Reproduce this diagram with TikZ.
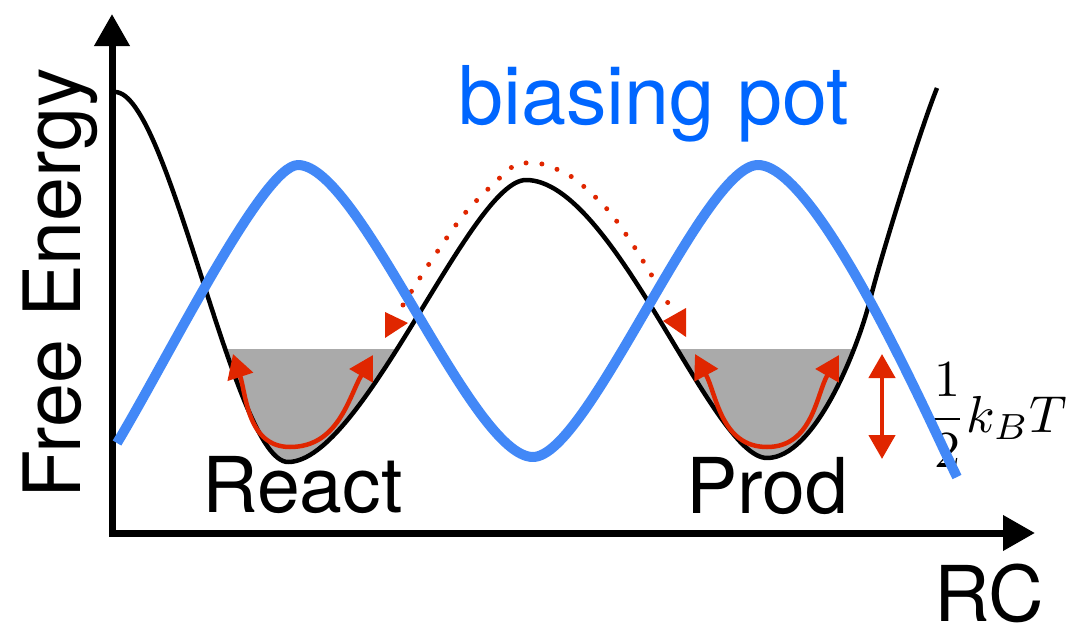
\documentclass[tikz,border=0pt]{standalone}
\usepackage{fontspec}
\setmainfont{TeX Gyre Heros}
\usepackage{graphicx}
\usetikzlibrary{arrows.meta}
\definecolor{bluetext}{RGB}{0,102,255}
\definecolor{bluecurve}{RGB}{66,136,247}
\definecolor{redc}{RGB}{224,38,0}
\definecolor{wellgray}{RGB}{170,170,170}
\begin{document}
\begin{tikzpicture}[x=1pt,y=-1pt,
  axisline/.style={line width=7pt, line join=miter,
    {Triangle[length=32pt,width=34pt]}-{Triangle[length=32pt,width=34pt]}},
  fecurve/.style={black, line width=4.5pt, line join=round},
  biascurve/.style={bluecurve, line width=10pt, line join=round},
  osc/.style={redc, line width=4.5pt,
    {Triangle[length=24pt,width=26pt]}-{Triangle[length=24pt,width=26pt]}},
  hop/.style={redc, line width=5pt, line cap=round, dash pattern=on 0pt off 16pt},
  hoptip/.style={fill=redc},
  lbl/.style={font=\fontsize{77}{80}\selectfont, inner sep=0pt, anchor=base west}]
\useasboundingbox (0,0) rectangle (1082,629);

% key points of the free-energy profile
\coordinate (F0) at (115,92);
\coordinate (Fr) at (288,462);
\coordinate (Fb) at (526,180);
\coordinate (Fp) at (767,458);
\coordinate (Fi) at (870,300);
\coordinate (F1) at (937,88);

% wells filled up to the same level
\begin{scope}
  \clip (150,349) rectangle (900,520);
  \fill[wellgray] (F0) .. controls (169,92) and (234,462) .. (Fr)
    .. controls (363,462) and (471,180) .. (Fb)
    .. controls (614,180) and (712,458) .. (Fp)
    .. controls (815,458) and (858,348) .. (Fi)
    .. controls (880,260) and (920,130) .. (F1);
\end{scope}

% free-energy profile
\draw[fecurve] (F0) .. controls (169,92) and (234,462) .. (Fr)
    .. controls (363,462) and (471,180) .. (Fb)
    .. controls (614,180) and (712,458) .. (Fp)
    .. controls (815,458) and (858,348) .. (Fi)
    .. controls (880,260) and (920,130) .. (F1);

% oscillation arrows in the wells
\coordinate (rL) at (233,354);
\coordinate (rB) at (290,447);
\coordinate (rR) at (373,355);
\coordinate (pL) at (695,354);
\coordinate (pB) at (767,447);
\coordinate (pR) at (839,355);
\draw[osc] (rL) to[out=-72, in=180] (rB) to[out=0, in=-120] (rR);
\draw[osc] (pL) to[out=-62, in=180] (pB) to[out=0, in=-120] (pR);

% hopping over the barrier
\draw[hop] plot[smooth] coordinates {(403,305) (429,264) (466,212) (512,167)
  (527,163) (542,164) (572,177) (607,209) (635,248) (668,303)};
\fill[hoptip] (385,312) -- (408,323) -- (385,338) -- cycle;
\fill[hoptip] (686,308) -- (663,321) -- (686,337) -- cycle;

% half kT arrow
\coordinate (kTtop) at (882,354);
\coordinate (kTbot) at (882,459);
\draw[osc] (kTtop) -- (kTbot);

% axes
\coordinate (Ytip) at (112,14);
\coordinate (O) at (112,533);
\coordinate (Xtip) at (1035,533);
\draw[axisline] (Ytip) -- (O) -- (Xtip);

% labels
\node[lbl, rotate=90, font=\fontsize{79}{80}\selectfont] (fe) at (80,499) {Free Energy};
\node[lbl] (rc) at (934,621) {RC};
\node[lbl, text=bluetext, font=\fontsize{81}{84}\selectfont] (bias) at (458,124) {biasing pot};
\node[lbl] (react) at (202,512) {React};
\node[lbl] (prod) at (686,513) {Prod};
\node[inner sep=0pt, anchor=base west] (kt) at (928,432)
  {\scalebox{5.2}{$\displaystyle\frac{1}{2}k_BT$}};

% biasing potential
\coordinate (B0) at (117,443);
\coordinate (B1) at (298,165);
\coordinate (B2) at (533,457);
\coordinate (B3) at (758,165);
\coordinate (B4) at (957,477);
\draw[biascurve] (B0) .. controls (167,360) and (263,165) .. (B1)
  .. controls (360,165) and (471,457) .. (B2)
  .. controls (588,457) and (703,165) .. (B3)
  .. controls (818,165) and (932,427) .. (B4);
\end{tikzpicture}
\end{document}
